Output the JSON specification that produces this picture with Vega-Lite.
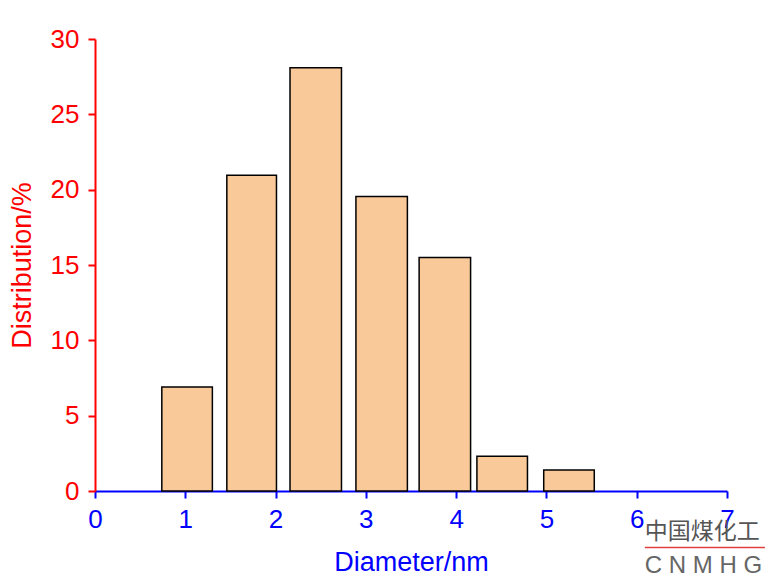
{
  "$schema": "https://vega.github.io/schema/vega-lite/v6.json",
  "width": 632,
  "height": 452,
  "autosize": {"type": "none"},
  "padding": {"left": 95, "top": 39, "right": 43, "bottom": 96},
  "background": "#ffffff",
  "config": {"view": {"stroke": null}, "font": "Liberation Sans"},
  "layer": [
    {
      "data": {"values": [
        {"start": 0.74, "end": 1.30, "percent": 6.9},
        {"start": 1.46, "end": 2.01, "percent": 20.95},
        {"start": 2.16, "end": 2.73, "percent": 28.1},
        {"start": 2.89, "end": 3.46, "percent": 19.55},
        {"start": 3.59, "end": 4.16, "percent": 15.5},
        {"start": 4.23, "end": 4.79, "percent": 2.3},
        {"start": 4.97, "end": 5.53, "percent": 1.4}
      ]},
      "mark": {"type": "bar", "fill": "#F9C999", "stroke": "#000000", "strokeWidth": 1.5, "opacity": 1},
      "encoding": {
        "x": {
          "field": "start", "type": "quantitative",
          "scale": {"domain": [0, 7], "nice": false, "zero": false},
          "axis": {
            "title": "Diameter/nm", "values": [0, 1, 2, 3, 4, 5, 6, 7], "format": "d", "grid": false,
            "domainColor": "#0000FF", "domainWidth": 2, "tickColor": "#0000FF", "tickWidth": 2, "tickSize": 7,
            "labelColor": "#0000FF", "labelFontSize": 26, "labelPadding": 8, "labelFlush": false, "labelFont": "Liberation Sans",
            "titleColor": "#0000FF", "titleFontSize": 27, "titleFontWeight": "normal", "titlePadding": 17, "titleFont": "Liberation Sans"
          }
        },
        "x2": {"field": "end"},
        "y": {
          "field": "percent", "type": "quantitative",
          "scale": {"domain": [0, 30], "nice": false},
          "axis": {
            "title": "Distribution/%", "values": [0, 5, 10, 15, 20, 25, 30], "format": "d", "grid": false,
            "domainColor": "#FF0000", "domainWidth": 2, "tickColor": "#FF0000", "tickWidth": 2, "tickSize": 7,
            "labelColor": "#FF0000", "labelFontSize": 26, "labelPadding": 9, "labelFont": "Liberation Sans",
            "titleColor": "#FF0000", "titleFontSize": 27, "titleFontWeight": "normal", "titlePadding": 14, "titleFont": "Liberation Sans"
          }
        },
        "y2": {"datum": 0}
      }
    },
    {
      "data": {"values": [
        {"wx": 6.09, "wy": -2.75, "label": "中国煤化工"}
      ]},
      "mark": {"type": "text", "align": "left", "baseline": "middle", "fontSize": 23, "font": "Noto Sans CJK SC", "color": "#555555", "clip": false},
      "encoding": {
        "x": {"field": "wx", "type": "quantitative"},
        "y": {"field": "wy", "type": "quantitative"},
        "text": {"field": "label"}
      }
    },
    {
      "data": {"values": [
        {"wx": 6.09, "wy": -4.98, "label": "C N M H G"}
      ]},
      "mark": {"type": "text", "align": "left", "baseline": "middle", "fontSize": 24, "font": "Liberation Sans", "color": "#666666", "clip": false},
      "encoding": {
        "x": {"field": "wx", "type": "quantitative"},
        "y": {"field": "wy", "type": "quantitative"},
        "text": {"field": "label"}
      }
    },
    {
      "data": {"values": [
        {"wx": 6.09, "wx2": 7.42, "wy": -3.75}
      ]},
      "mark": {"type": "rule", "color": "#E04040", "strokeWidth": 1.5, "clip": false},
      "encoding": {
        "x": {"field": "wx", "type": "quantitative"},
        "x2": {"field": "wx2"},
        "y": {"field": "wy", "type": "quantitative"}
      }
    }
  ]
}
